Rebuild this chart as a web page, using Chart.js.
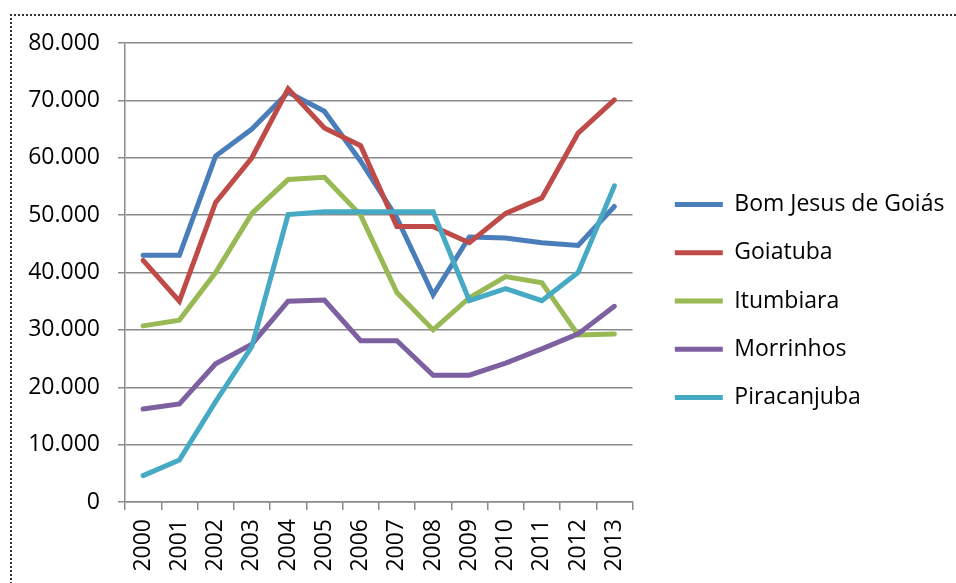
<!DOCTYPE html>
<html>
<head>
<meta charset="utf-8">
<script src="https://cdn.jsdelivr.net/npm/chart.js"></script>
<style>
  html, body { margin: 0; padding: 0; background: #fff; overflow: hidden; }
  #wrap { position: relative; width: 956px; height: 583px; }
  #frame {
    position: absolute; left: 10px; top: 14px; width: 2000px; height: 2000px;
    border-left: 2px dotted #333; border-top: 2px dotted #333; pointer-events: none;
  }
</style>
</head>
<body>
<div id="wrap">
  <canvas id="chart" width="956" height="583"></canvas>
  <div id="frame"></div>
</div>
<script>
// data
const years = ['2000', '2001', '2002', '2003', '2004', '2005', '2006', '2007', '2008', '2009', '2010', '2011', '2012', '2013'];
const seriesNames = ['Bom Jesus de Goiás', 'Goiatuba', 'Itumbiara', 'Morrinhos', 'Piracanjuba'];
const bomJesus    = [43000, 43000, 60300, 65000, 71400, 68100, 59400, 49500, 36100, 46200, 46000, 45200, 44700, 51500];
const goiatuba    = [42100, 35000, 52200, 60000, 72000, 65200, 62100, 48000, 48000, 45200, 50300, 53000, 64300, 70100];
const itumbiara   = [30700, 31700, 40000, 50300, 56200, 56600, 50000, 36500, 30000, 35600, 39300, 38200, 29100, 29300];
const morrinhos   = [16200, 17100, 24100, 27500, 35000, 35200, 28100, 28100, 22100, 22100, 24200, 26700, 29300, 34100];
const piracanjuba = [4600, 7300, 17500, 27100, 50100, 50600, 50600, 50600, 50600, 35100, 37200, 35100, 40000, 55100];
const yTicks = [0, 10000, 20000, 30000, 40000, 50000, 60000, 70000, 80000];

const colors = ['#4A7EBB', '#BE4B48', '#98B954', '#7D60A0', '#46AAC5'];
const allSeries = [bomJesus, goiatuba, itumbiara, morrinhos, piracanjuba];

const gridColor = '#8a8a8a';
const fontFamily = '"Open Sans", "Liberation Sans", sans-serif';
const legendFont = 23;

// work out right padding so the legend sits where the reference has it
const mctx = document.createElement('canvas').getContext('2d');
mctx.font = legendFont + 'px ' + fontFamily;
const maxText = Math.max(...seriesNames.map(n => mctx.measureText(n).width));
const legendPad = 25.3, legendBox = 48;
const legendLeft = 649.5;
const legendWidth = legendPad + legendBox + legendFont / 2 + maxText + 10;
const rightPad = 956 - legendLeft - legendWidth;

const datasets = allSeries.map((data, i) => ({
  label: seriesNames[i],
  data: data,
  borderColor: colors[i],
  backgroundColor: colors[i],
  borderWidth: 5,
  borderCapStyle: 'round',
  pointRadius: 0,
  pointHoverRadius: 0,
  pointStyle: 'line',
  tension: 0,
  fill: false,
  order: allSeries.length - i   // later series on top, like the original
}));

new Chart(document.getElementById('chart'), {
  type: 'line',
  data: { labels: years, datasets: datasets },
  options: {
    responsive: false,
    animation: false,
    layout: { padding: { top: 31, bottom: 12, left: 0, right: rightPad } },
    plugins: {
      tooltip: { enabled: false },
      // empty title only used as a spacer so the legend centres like the original
      title: { display: true, text: ' ', font: { size: 12, lineHeight: 1 }, padding: 0 },
      legend: {
        position: 'right',
        maxWidth: 400,
        labels: {
          usePointStyle: true,
          pointStyleWidth: legendBox,
          padding: legendPad,
          color: '#000',
          font: { family: fontFamily, size: legendFont },
          sort: (a, b) => a.datasetIndex - b.datasetIndex
        }
      }
    },
    scales: {
      x: {
        offset: true,
        grid: { offset: true, drawOnChartArea: false, drawTicks: true, tickLength: 8, color: gridColor, lineWidth: 1.5 },
        border: { display: true, color: gridColor, width: 1.5 },
        ticks: {
          color: '#000', autoSkip: false, maxRotation: 90, minRotation: 90, padding: 9,
          font: { family: fontFamily, size: 23 }
        },
        afterFit: (s) => { s.height = 69; }
      },
      y: {
        min: 0,
        max: 80000,
        afterBuildTicks: (s) => { s.ticks = yTicks.map(v => ({ value: v })); },
        grid: { color: gridColor, lineWidth: 1.5, tickLength: 7 },
        border: { display: true, color: gridColor, width: 1.5 },
        ticks: {
          color: '#000', padding: 18,
          font: { family: fontFamily, size: 23 },
          callback: (v) => v === 0 ? '0' : (v / 1000) + '.000'
        },
        afterFit: (s) => { s.width = 125; }
      },
      gap: {
        type: 'linear',
        position: 'right',
        display: true,
        grid: { display: false, drawTicks: false },
        border: { display: false },
        ticks: { display: false },
        afterFit: (s) => { s.width = 17; }
      }
    }
  }
});
</script>
</body>
</html>
